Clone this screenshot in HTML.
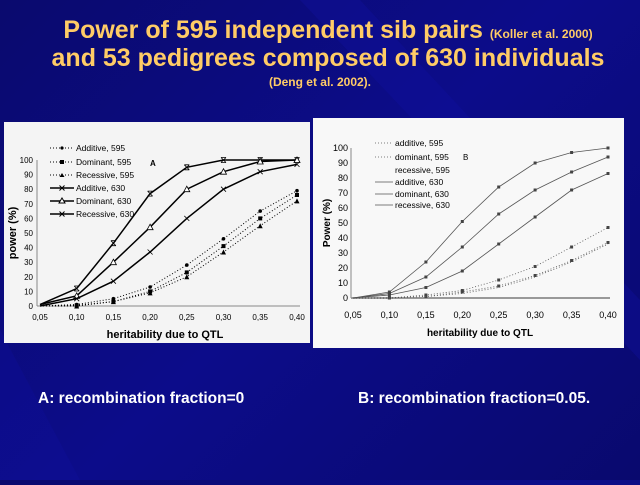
<!DOCTYPE html>
<html><head><meta charset="utf-8"><style>
body{margin:0;width:640px;height:480px;overflow:hidden;background:linear-gradient(135deg,#0a0a6e 0%,#0c0c8a 50%,#09096e 100%);font-family:"Liberation Sans",sans-serif;}
</style></head><body>
<svg width="640" height="480" xmlns="http://www.w3.org/2000/svg" font-family="Liberation Sans, sans-serif">
<defs>
<marker id="dot" markerUnits="userSpaceOnUse" markerWidth="6" markerHeight="6" refX="3" refY="3"><circle cx="3" cy="3" r="1.8" fill="#000"/></marker>
<marker id="sq" markerUnits="userSpaceOnUse" markerWidth="6" markerHeight="6" refX="3" refY="3"><rect x="1" y="1" width="4" height="4" fill="#000"/></marker>
<marker id="tri" markerUnits="userSpaceOnUse" markerWidth="6" markerHeight="6" refX="3" refY="3"><path d="M3,0.5 L5.5,5.5 L0.5,5.5Z" fill="#000"/></marker>
<marker id="otri" markerUnits="userSpaceOnUse" markerWidth="10" markerHeight="10" refX="5" refY="5"><path d="M5,2 L8,7.5 L2,7.5Z" fill="#fff" stroke="#000" stroke-width="0.8"/></marker>
<marker id="xx" markerUnits="userSpaceOnUse" markerWidth="8" markerHeight="8" refX="4" refY="4"><path d="M1.5,1.5 L6.5,6.5 M6.5,1.5 L1.5,6.5" stroke="#000" stroke-width="0.8"/></marker>
<marker id="xb" markerUnits="userSpaceOnUse" markerWidth="8" markerHeight="8" refX="4" refY="4"><path d="M1.5,1.5 L6.5,6.5 M6.5,1.5 L1.5,6.5 M1.5,1.5H6.5 M1.5,6.5H6.5" stroke="#000" stroke-width="0.8"/></marker>
<marker id="sm" markerUnits="userSpaceOnUse" markerWidth="4" markerHeight="4" refX="2" refY="2"><rect x="0.5" y="0.5" width="3" height="3" fill="#444"/></marker>
</defs>
<polygon points="300,0 360,0 640,300 640,360" fill="#1010a0" opacity="0.35"/>
<polygon points="0,330 80,480 0,480" fill="#1010a0" opacity="0.3"/>
<text x="328" y="38" text-anchor="middle" fill="#ffcc66" font-weight="bold" font-size="25">Power of 595 independent sib pairs <tspan font-size="12">(Koller et al. 2000)</tspan></text>
<text x="328" y="66" text-anchor="middle" fill="#ffcc66" font-weight="bold" font-size="25">and 53 pedigrees composed of 630 individuals</text>
<text x="320" y="86" text-anchor="middle" fill="#ffcc66" font-weight="bold" font-size="12">(Deng et al. 2002).</text>

<!-- Chart A -->
<rect x="4" y="122" width="306" height="221" fill="#f4f4f4"/>
<g font-size="8" fill="#000" text-anchor="end">
<text x="33" y="309">0</text><text x="33" y="294.4">10</text><text x="33" y="279.8">20</text><text x="33" y="265.2">30</text><text x="33" y="250.6">40</text><text x="33" y="236">50</text><text x="33" y="221.4">60</text><text x="33" y="206.8">70</text><text x="33" y="192.2">80</text><text x="33" y="177.6">90</text><text x="33" y="163">100</text>
</g>
<line x1="37" y1="160" x2="37" y2="306" stroke="#888"/><line x1="37" y1="306" x2="300" y2="306" stroke="#888"/>
<g font-size="8" text-anchor="middle"><text x="40" y="320">0,05</text><text x="76.7" y="320">0,10</text><text x="113.4" y="320">0,15</text><text x="150.1" y="320">0,20</text><text x="186.8" y="320">0,25</text><text x="223.5" y="320">0,30</text><text x="260.2" y="320">0,35</text><text x="297" y="320">0,40</text></g>
<text x="165" y="338" text-anchor="middle" font-size="11" font-weight="bold">heritability due to QTL</text>
<text transform="translate(16,233) rotate(-90)" text-anchor="middle" font-size="11" font-weight="bold">power (%)</text>
<text x="150" y="166" font-size="8" font-weight="bold">A</text>
<g fill="none" stroke="#000" stroke-width="1">
<polyline stroke-dasharray="1,2" marker-mid="url(#dot)" marker-end="url(#dot)" points="40,306 76.7,304.5 113.4,298.7 150.1,287 186.8,265.1 223.5,238.8 260.2,211.1 297,190.7"/>
<polyline stroke-dasharray="1,2" marker-mid="url(#sq)" marker-end="url(#sq)" points="40,306 76.7,305.3 113.4,301.6 150.1,291.4 186.8,272.4 223.5,246.1 260.2,218.4 297,195"/>
<polyline stroke-dasharray="1,2" marker-mid="url(#tri)" marker-end="url(#tri)" points="40,306 76.7,306 113.4,301.6 150.1,292.9 186.8,276.8 223.5,252 260.2,225.7 297,200.9"/>
<polyline stroke-width="1.5" marker-mid="url(#xb)" marker-end="url(#xb)" points="40,304.5 76.7,288.5 113.4,243.2 150.1,193.6 186.8,167.3 223.5,160 260.2,160 297,160"/>
<polyline stroke-width="1.5" marker-mid="url(#otri)" marker-end="url(#otri)" points="40,304.5 76.7,295.8 113.4,262.2 150.1,227.2 186.8,189.2 223.5,171.7 260.2,161.5 297,160"/>
<polyline stroke-width="1.5" marker-mid="url(#xx)" marker-end="url(#xx)" points="40,306 76.7,298.7 113.4,281.2 150.1,252 186.8,218.4 223.5,189.2 260.2,171.7 297,164.4"/>
<line x1="50" y1="148" x2="74" y2="148" stroke-dasharray="1,2"/>
<line x1="50" y1="162" x2="74" y2="162" stroke-dasharray="1,2"/>
<line x1="50" y1="175" x2="74" y2="175" stroke-dasharray="1,2"/>
<line x1="50" y1="188" x2="74" y2="188" stroke-width="1.5"/>
<line x1="50" y1="201" x2="74" y2="201" stroke-width="1.5"/>
<line x1="50" y1="214" x2="74" y2="214" stroke-width="1.5"/>
</g>
<g><circle cx="62" cy="148" r="1.6"/><rect x="60" y="160" width="4" height="4"/><path d="M62,173 L64.5,177 L59.5,177Z"/>
<path d="M59.5,185.5 L64.5,190.5 M64.5,185.5 L59.5,190.5" stroke="#000"/><path d="M62,198 L65,203 L59,203Z" fill="#fff" stroke="#000"/><path d="M59.5,211.5 L64.5,216.5 M64.5,211.5 L59.5,216.5" stroke="#000"/></g>
<g font-size="8.5"><text x="76" y="151">Additive, 595</text><text x="76" y="165">Dominant, 595</text><text x="76" y="178">Recessive, 595</text><text x="76" y="191">Additive, 630</text><text x="76" y="204">Dominant, 630</text><text x="76" y="217">Recessive, 630</text></g>

<!-- Chart B -->
<rect x="313" y="118" width="311" height="230" fill="#f8f8f8"/>
<g font-size="9" text-anchor="end">
<text x="348" y="301">0</text><text x="348" y="286">10</text><text x="348" y="271">20</text><text x="348" y="256">30</text><text x="348" y="241">40</text><text x="348" y="226">50</text><text x="348" y="211">60</text><text x="348" y="196">70</text><text x="348" y="181">80</text><text x="348" y="166">90</text><text x="348" y="151">100</text>
</g>
<line x1="351" y1="148" x2="351" y2="298" stroke="#888"/><line x1="351" y1="298" x2="610" y2="298" stroke="#999" stroke-width="2"/>
<g font-size="9" text-anchor="middle"><text x="353" y="318">0,05</text><text x="389.4" y="318">0,10</text><text x="425.9" y="318">0,15</text><text x="462.3" y="318">0,20</text><text x="498.7" y="318">0,25</text><text x="535.1" y="318">0,30</text><text x="571.6" y="318">0,35</text><text x="608" y="318">0,40</text></g>
<text x="480" y="336" text-anchor="middle" font-size="10" font-weight="bold">heritability due to QTL</text>
<text transform="translate(330,223) rotate(-90)" text-anchor="middle" font-size="10" font-weight="bold">Power (%)</text>
<text x="463" y="160" font-size="8">B</text>
<g fill="none" stroke="#555" stroke-width="0.8">
<polyline stroke-dasharray="1,2" marker-mid="url(#sm)" marker-end="url(#sm)" points="353,298 389.4,298 425.9,295 462.3,290.5 498.7,280 535.1,266.5 571.6,247 608,227.5"/>
<polyline stroke-dasharray="1,2" marker-mid="url(#sm)" marker-end="url(#sm)" points="353,298 389.4,298 425.9,296.5 462.3,292 498.7,286 535.1,275.5 571.6,260.5 608,242.5"/>
<polyline stroke-dasharray="1,2" points="353,298 389.4,298 425.9,296.5 462.3,293.5 498.7,287.5 535.1,277 571.6,262 608,244"/>
<polyline marker-mid="url(#sm)" marker-end="url(#sm)" points="353,298 389.4,292 425.9,262 462.3,221.5 498.7,187 535.1,163 571.6,152.5 608,148"/>
<polyline marker-mid="url(#sm)" marker-end="url(#sm)" points="353,298 389.4,293.5 425.9,277 462.3,247 498.7,214 535.1,190 571.6,172 608,157"/>
<polyline marker-mid="url(#sm)" marker-end="url(#sm)" points="353,298 389.4,295 425.9,287.5 462.3,271 498.7,244 535.1,217 571.6,190 608,173.5"/>
<line x1="375" y1="143" x2="393" y2="143" stroke-dasharray="1,2"/>
<line x1="375" y1="157" x2="393" y2="157" stroke-dasharray="1,2"/>
<line x1="375" y1="182" x2="393" y2="182"/>
<line x1="375" y1="194" x2="393" y2="194"/>
<line x1="375" y1="205" x2="393" y2="205"/>
</g>
<g font-size="8.5"><text x="395" y="146">additive, 595</text><text x="395" y="160">dominant, 595</text><text x="395" y="173">recessive, 595</text><text x="395" y="185">additive, 630</text><text x="395" y="197">dominant, 630</text><text x="395" y="208">recessive, 630</text></g>

<text x="38" y="403" fill="#fff" font-size="15.5" font-weight="bold">A: recombination fraction=0</text>
<text x="358" y="403" fill="#fff" font-size="15.5" font-weight="bold">B: recombination fraction=0.05.</text>
</svg>
</body></html>
